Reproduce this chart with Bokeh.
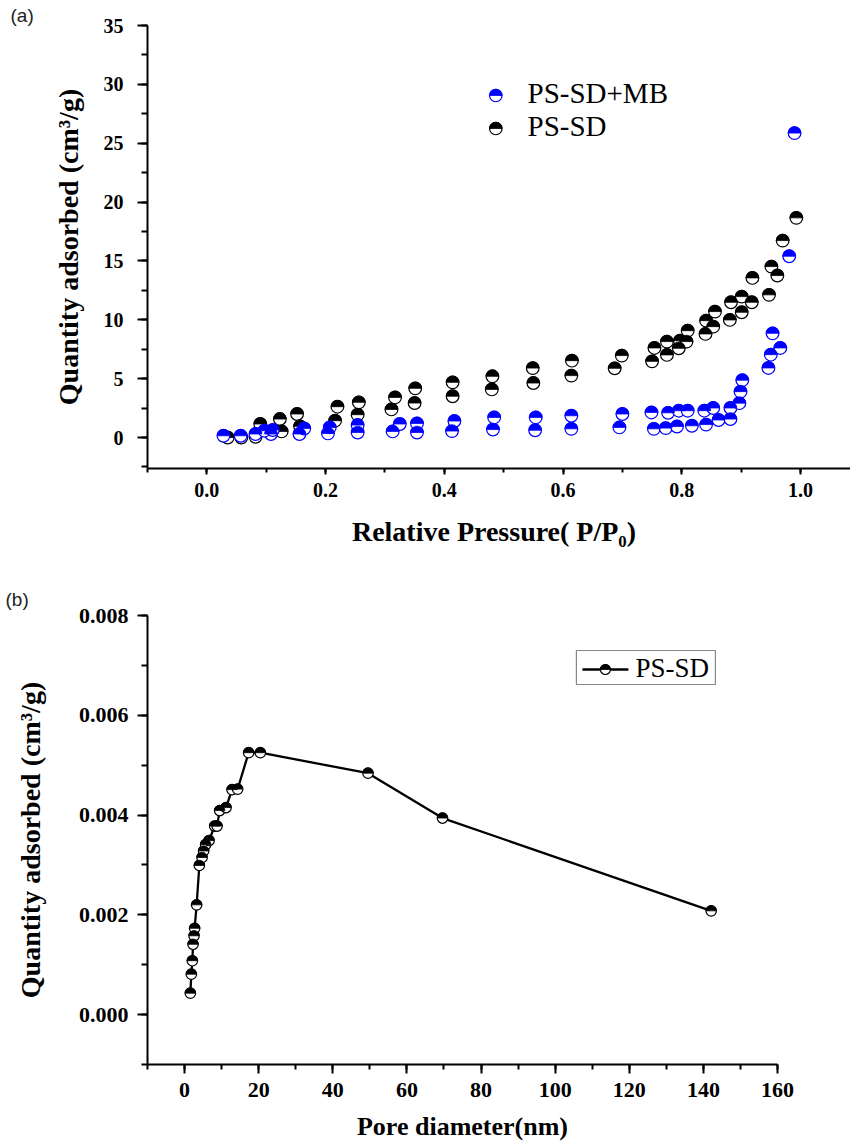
import numpy as np
from bokeh.plotting import figure
from bokeh.models import Range1d, SingleIntervalTicker, NumeralTickFormatter, Title
from bokeh.layouts import column
from bokeh.embed import file_html
from bokeh.resources import INLINE
from bokeh.core.properties import value

# ---------------- data: (a) N2 isotherms ----------------
mb_x = [0.028, 0.057, 0.082, 0.108, 0.156, 0.204, 0.254, 0.313, 0.354, 0.413, 0.482, 0.553,
        0.614, 0.695, 0.753, 0.773, 0.792, 0.817, 0.841, 0.862, 0.882,
        0.097, 0.111, 0.164, 0.207, 0.254, 0.325, 0.354, 0.417, 0.484, 0.554, 0.614, 0.700,
        0.749, 0.777, 0.795, 0.810, 0.838, 0.853, 0.882, 0.897, 0.899, 0.902, 0.946, 0.950,
        0.953, 0.966, 0.981, 0.990]
mb_y = [0.15, 0.15, 0.30, 0.30, 0.30, 0.35, 0.43, 0.52, 0.43, 0.55, 0.68, 0.62,
        0.74, 0.86, 0.74, 0.80, 0.94, 1.00, 1.10, 1.49, 1.57,
        0.58, 0.64, 0.77, 0.86, 1.06, 1.15, 1.20, 1.40, 1.71, 1.71, 1.85, 2.00,
        2.13, 2.10, 2.28, 2.28, 2.28, 2.51, 2.51, 2.92, 3.90, 4.87, 5.91, 7.04,
        8.85, 7.61, 15.4, 25.86]

sd_x = [0.035, 0.058, 0.082, 0.090, 0.123, 0.126, 0.152, 0.157, 0.216, 0.220, 0.254, 0.256,
        0.311, 0.317, 0.350, 0.351, 0.414, 0.414, 0.480, 0.481, 0.550, 0.549, 0.614, 0.615,
        0.687, 0.699, 0.750, 0.754, 0.775, 0.775, 0.795, 0.797, 0.808, 0.810, 0.840, 0.841,
        0.853, 0.856, 0.881, 0.883, 0.901, 0.901, 0.918, 0.919, 0.947, 0.951, 0.961, 0.970,
        0.993]
sd_y = [0.00, 0.00, 0.07, 1.15, 1.57, 0.52, 2.00, 0.95, 1.43, 2.62, 1.94, 2.99,
        2.39, 3.41, 2.93, 4.18, 3.51, 4.69, 4.09, 5.20, 4.63, 5.90, 5.26, 6.53,
        5.88, 6.96, 6.47, 7.61, 7.02, 8.15, 7.58, 8.23, 8.15, 9.08, 8.80, 9.93,
        9.42, 10.70, 9.99, 11.49, 10.64, 11.97, 11.49, 13.56, 12.12, 14.52, 13.76, 16.73,
        18.66]

# ---------------- data: (b) pore size distribution ----------------
pore_d = [1.56, 1.83, 2.10, 2.29, 2.56, 2.72, 3.26, 3.99, 4.72, 5.15, 5.69, 6.61,
          8.12, 8.77, 9.47, 11.19, 12.81, 14.32, 17.29, 20.45, 49.5, 69.6, 142.1]
pore_v = [0.00043, 0.00081, 0.00108, 0.00141, 0.00158, 0.00173, 0.00220, 0.00299,
          0.00315, 0.00328, 0.00341, 0.00349, 0.00378, 0.00378, 0.00409, 0.00415,
          0.00451, 0.00452, 0.00525, 0.00525, 0.00484, 0.00394, 0.00208]

labels_a = ["PS-SD+MB", "PS-SD"]
labels_b = ["PS-SD"]

SERIF = "Times New Roman"
AXFONT = "Times New Roman"
BLUE = "#0000FF"
BLACK = "#000000"


def half_markers(p, x, y, color, size, lw=1.2):
    p.scatter(x, y, size=size, marker="circle", fill_color="white",
              line_color=color, line_width=lw)
    p.wedge(x, y, radius=size / 2.0, radius_units="screen", start_angle=0,
            end_angle=np.pi, fill_color=color, line_color=color, line_width=0.8)


def fx(p, fw, dx):
    r = p.x_range
    return r.start + dx / fw * (r.end - r.start)


def fy(p, fh, dy):
    r = p.y_range
    return r.end - dy / fh * (r.end - r.start)


def style_axes(p, tick_size, label_size, x_out, x_minor, y_out, y_minor,
               x_standoff, y_standoff, x_lab_standoff, y_lab_standoff):
    p.outline_line_color = None
    p.xgrid.visible = False
    p.ygrid.visible = False
    p.background_fill_color = "white"
    p.border_fill_color = "white"
    for ax in (p.xaxis[0], p.yaxis[0]):
        ax.axis_line_width = 2
        ax.axis_line_color = "black"
        ax.major_tick_line_width = 2
        ax.minor_tick_line_width = 2
        ax.major_tick_in = 0
        ax.minor_tick_in = 0
        ax.major_label_text_font = AXFONT
        ax.major_label_text_font_style = "bold"
        ax.major_label_text_font_size = tick_size
        ax.major_label_text_color = "black"
        ax.axis_label_text_font = AXFONT
        ax.axis_label_text_font_style = "bold"
        ax.axis_label_text_font_size = label_size
        ax.axis_label_text_color = "black"
    p.xaxis[0].major_tick_out = x_out
    p.xaxis[0].minor_tick_out = x_minor
    p.yaxis[0].major_tick_out = y_out
    p.yaxis[0].minor_tick_out = y_minor
    p.xaxis[0].major_label_standoff = x_standoff
    p.yaxis[0].major_label_standoff = y_standoff
    p.xaxis[0].axis_label_standoff = x_lab_standoff
    p.yaxis[0].axis_label_standoff = y_lab_standoff


def panel_title(p, text, offset, standoff):
    t = Title(text=text, align="left", offset=offset, standoff=standoff,
              text_font="Liberation Sans", text_font_size="19px",
              text_font_style="normal", text_color="#222222")
    p.add_layout(t, "above")


# ================= figure (a) =================
FW1, FH1 = 707, 443
p1 = figure(frame_width=FW1, frame_height=FH1,
            x_range=Range1d(-0.1, 1.091), y_range=Range1d(-2.63, 35),
            output_backend="svg", toolbar_location=None,
            min_border_left=142, min_border_right=1, min_border_top=25,
            min_border_bottom=92)
p1.xaxis.ticker = SingleIntervalTicker(interval=0.2, num_minor_ticks=2)
p1.yaxis.ticker = SingleIntervalTicker(interval=5, num_minor_ticks=2)
p1.xaxis.formatter = NumeralTickFormatter(format="0.0")
p1.yaxis.formatter = NumeralTickFormatter(format="0")
p1.xaxis.axis_label = "Relative Pressure(   P/P\u2080)"
p1.yaxis.axis_label = "Quantity adsorbed (cm\u00b3/g)"
style_axes(p1, "20px", "28px", 6, 4, 10, 6, 8, 14, 16, 17)
p1.xaxis.axis_label_text_font_size = "28px"

half_markers(p1, sd_x, sd_y, BLACK, 12.7)
half_markers(p1, mb_x, mb_y, BLUE, 12.7)

# legend (a)
leg_colors = [BLUE, BLACK]
leg_dy = [70, 103]
for lab, col, dy in zip(labels_a, leg_colors, leg_dy):
    half_markers(p1, [fx(p1, FW1, 348.3)], [fy(p1, FH1, dy)], col, 12.5)
    p1.text(x=[fx(p1, FW1, 380)], y=[fy(p1, FH1, dy - 3)], text=[lab],
            text_font=value(SERIF), text_font_size="29px", text_color="black",
            text_baseline="middle", text_align="left")

panel_title(p1, "(a)", -137, 0)

# ================= figure (b) =================
FW2, FH2 = 630, 449
p2 = figure(frame_width=FW2, frame_height=FH2,
            x_range=Range1d(-10, 160), y_range=Range1d(-0.001, 0.008),
            output_backend="svg", toolbar_location=None,
            min_border_left=147, min_border_right=73, min_border_top=55,
            min_border_bottom=81)
p2.xaxis.ticker = SingleIntervalTicker(interval=20, num_minor_ticks=2)
p2.yaxis.ticker = SingleIntervalTicker(interval=0.002, num_minor_ticks=2)
p2.xaxis.formatter = NumeralTickFormatter(format="0")
p2.yaxis.formatter = NumeralTickFormatter(format="0.000")
p2.xaxis.axis_label = "Pore diameter(nm)"
p2.yaxis.axis_label = "Quantity adsorbed (cm\u00b3/g)"
style_axes(p2, "22px", "28px", 9, 5, 10, 6, 9, 9, 12, 30)
p2.xaxis.axis_label_text_font_size = "26px"

p2.line(pore_d, pore_v, line_width=2.3, line_color=BLACK)
half_markers(p2, pore_d, pore_v, BLACK, 10.5)

# legend (b)
p2.quad(left=[fx(p2, FW2, 428.9)], right=[fx(p2, FW2, 567.9)],
        top=[fy(p2, FH2, 35)], bottom=[fy(p2, FH2, 69)],
        fill_color="white", line_color="#888888", line_width=1.2)
p2.line([fx(p2, FW2, 434.9), fx(p2, FW2, 480.9)], [fy(p2, FH2, 54)] * 2,
        line_width=2.3, line_color=BLACK)
half_markers(p2, [fx(p2, FW2, 457.9)], [fy(p2, FH2, 54)], BLACK, 10)
p2.text(x=[fx(p2, FW2, 487.9)], y=[fy(p2, FH2, 52)], text=labels_b,
        text_font=value(SERIF), text_font_size="27px", text_color="black",
        text_baseline="middle", text_align="left")

panel_title(p2, "(b)", -142, 12)

layout = column(p1, p2, spacing=0)
open("out.html", "w").write(file_html(layout, INLINE))
